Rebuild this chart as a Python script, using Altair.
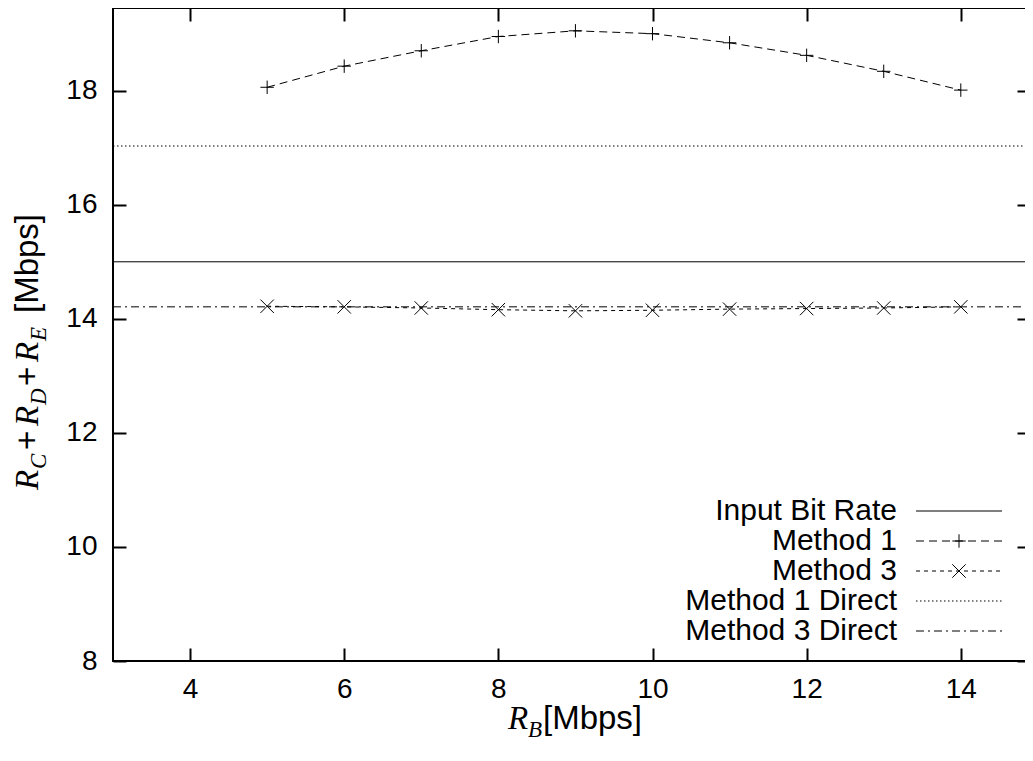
import altair as alt
import pandas as pd

# ---------------- data ----------------
RB = [5, 6, 7, 8, 9, 10, 11, 12, 13, 14]
METHOD_1 = [18.06, 18.43, 18.70, 18.95, 19.05, 19.00, 18.84, 18.62, 18.34, 18.01]
METHOD_3 = [14.22, 14.21, 14.19, 14.16, 14.14, 14.15, 14.17, 14.18, 14.19, 14.21]
INPUT_BIT_RATE = 15.0
METHOD_1_DIRECT = 17.03
METHOD_3_DIRECT = 14.21
LINE_SPAN = [3, 15]
X_DOMAIN = [3, 14.833]   # the frame's right edge lies past the picture edge
Y_DOMAIN = [8, 19.45]
X_TICKS = [4, 6, 8, 10, 12, 14]
Y_TICKS = [8, 10, 12, 14, 16, 18]
SERIES = ["Input Bit Rate", "Method 1", "Method 3", "Method 1 Direct", "Method 3 Direct"]

# ---------------- style ----------------
W, H = 912, 653
SANS = "Liberation Sans"
SERIF = "Liberation Serif"
PLUS = "M-1,0L1,0M0,-1L0,1"
CROSS = "M-1,-1L1,1M-1,1L1,-1"
DASH = {
    "Input Bit Rate": None,
    "Method 1": [8, 5],
    "Method 3": [4, 4],
    "Method 1 Direct": [1.5, 2.5],
    "Method 3 Direct": [8, 4, 2, 4],
}
SHAPE = {"Method 1": PLUS, "Method 3": CROSS}

xscale = alt.Scale(domain=X_DOMAIN, nice=False, zero=False)
yscale = alt.Scale(domain=Y_DOMAIN, nice=False, zero=False)


def axis(orient, values, labels, pad, tick=13):
    return alt.Axis(orient=orient, values=values, labels=labels, offset=-tick,
                    tickSize=tick, tickWidth=2, tickColor="black", domain=False,
                    grid=False, title=None, labelFont=SANS, labelFontSize=28,
                    labelColor="black", labelPadding=pad, labelFlush=False,
                    labelOverlap=False)


def line_kw(name):
    kw = dict(color="black", strokeWidth=1)
    if DASH[name]:
        kw["strokeDash"] = DASH[name]
    return kw


def series_line(xs, ys, name, xaxis=None, yaxis=None):
    df = pd.DataFrame({"x": xs, "y": ys})
    return alt.Chart(df).mark_line(**line_kw(name)).encode(
        x=alt.X("x:Q", scale=xscale, axis=xaxis),
        y=alt.Y("y:Q", scale=yscale, axis=yaxis),
    )


def series_points(xs, ys, name):
    df = pd.DataFrame({"x": xs, "y": ys})
    return alt.Chart(df).mark_point(shape=SHAPE[name], filled=False, size=180,
                                    color="black", strokeWidth=1, opacity=1).encode(
        x=alt.X("x:Q", scale=xscale, axis=None),
        y=alt.Y("y:Q", scale=yscale, axis=None),
    )


layers = [
    series_line(LINE_SPAN, [INPUT_BIT_RATE] * 2, "Input Bit Rate",
                xaxis=axis("top", X_TICKS, False, 0),
                yaxis=axis("right", Y_TICKS, False, 0, tick=8)),
    series_line(LINE_SPAN, [METHOD_1_DIRECT] * 2, "Method 1 Direct"),
    series_line(LINE_SPAN, [METHOD_3_DIRECT] * 2, "Method 3 Direct"),
    series_line(RB, METHOD_1, "Method 1",
                xaxis=axis("bottom", X_TICKS, True, 14),
                yaxis=axis("left", Y_TICKS, True, 16)),
    series_line(RB, METHOD_3, "Method 3"),
    series_points(RB, METHOD_1, "Method 1"),
    series_points(RB, METHOD_3, "Method 3"),
]

# ---------------- frame (left, top, bottom; right edge is off-picture) ----------------
one = pd.DataFrame({"a": [0]})
frame = dict(color="black", strokeWidth=2)
layers += [
    alt.Chart(one).mark_rule(**frame).encode(x=alt.value(0), y=alt.value(-1), y2=alt.value(H + 1)),
    alt.Chart(one).mark_rule(**frame).encode(x=alt.value(-1), x2=alt.value(W + 10), y=alt.value(0)),
    alt.Chart(one).mark_rule(**frame).encode(x=alt.value(-1), x2=alt.value(W + 10), y=alt.value(H)),
]

# ---------------- legend (inside, bottom right) ----------------
LEG_TEXT_X, LEG_X1, LEG_X2, LEG_Y0, LEG_DY = 784, 803, 889, 503, 30
for i, name in enumerate(SERIES):
    yy = LEG_Y0 + i * LEG_DY
    d = pd.DataFrame({"t": [name]})
    layers.append(alt.Chart(d).mark_text(align="right", baseline="middle", font=SANS,
                                         fontSize=30, color="black").encode(
        text="t:N", x=alt.value(LEG_TEXT_X), y=alt.value(yy)))
    layers.append(alt.Chart(d).mark_rule(**line_kw(name)).encode(
        x=alt.value(LEG_X1), x2=alt.value(LEG_X2), y=alt.value(yy)))
    if name in SHAPE:
        layers.append(alt.Chart(d).mark_point(shape=SHAPE[name], filled=False, size=180,
                                              color="black", strokeWidth=1, opacity=1).encode(
            x=alt.value((LEG_X1 + LEG_X2) / 2), y=alt.value(yy)))


# ---------------- axis titles with italic/subscript pieces ----------------
def piece(txt, x, y, size, font, style="normal", angle=0):
    return alt.Chart(pd.DataFrame({"t": [txt]})).mark_text(
        align="left", baseline="alphabetic", font=font, fontSize=size,
        fontStyle=style, angle=angle, color="black").encode(
        text="t:N", x=alt.value(x), y=alt.value(y))


# pieces: (text, font, size, style, subscript?, advance)
X_TITLE = [("R", SERIF, 33, "italic", False, 20),
           ("B", SERIF, 23, "italic", True, 15),
           ("[Mbps]", SANS, 33, "normal", False, 99)]
Y_TITLE = [("R", SERIF, 33, "italic", False, 21),
           ("C", SERIF, 23, "italic", True, 19),
           ("+", SANS, 33, "normal", False, 24),
           ("R", SERIF, 33, "italic", False, 21),
           ("D", SERIF, 23, "italic", True, 19),
           ("+", SANS, 33, "normal", False, 24),
           ("R", SERIF, 33, "italic", False, 21),
           ("E", SERIF, 23, "italic", True, 28),
           ("[Mbps]", SANS, 33, "normal", False, 99)]
SUB = 8

pos = 395
for txt, font, size, style, sub, adv in X_TITLE:
    layers.append(piece(txt, pos, 721 + (SUB if sub else 0), size, font, style))
    pos += adv

pos = 482
for txt, font, size, style, sub, adv in Y_TITLE:
    layers.append(piece(txt, -75 + (SUB if sub else 0), pos, size, font, style, angle=270))
    pos -= adv

chart = alt.layer(*layers).resolve_axis(x="independent", y="independent").properties(
    width=W, height=H,
    autosize=alt.AutoSizeParams(type="none"),
    padding={"left": 105, "top": 0, "right": 0, "bottom": 80},
    background="white",
).configure_view(stroke=None)

chart.save("out.html", embed_options={"renderer": "svg", "actions": False})
